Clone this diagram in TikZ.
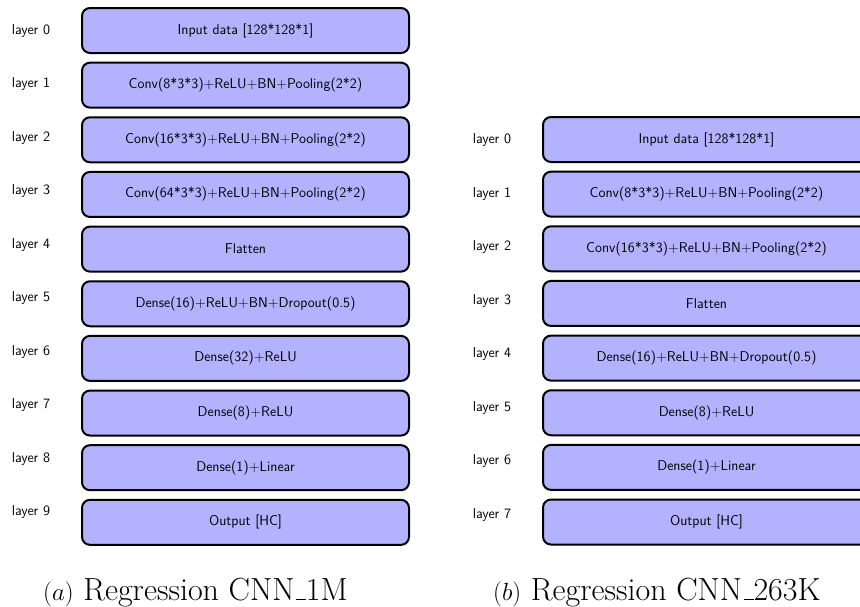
\documentclass[tikz,border=0pt]{standalone}
\begin{document}
\begin{tikzpicture}[x=1pt,y=-1pt,
  layerbox/.style={draw=black, line width=2pt, fill=blue!30, rounded corners=8pt,
    minimum width=327pt, minimum height=45pt, inner sep=0pt,
    font=\sffamily\fontsize{14.2}{16}\selectfont},
  layerlabel/.style={inner sep=0pt, font=\sffamily\fontsize{14.3}{16}\selectfont},
  captiontext/.style={inner sep=0pt, anchor=base west, font=\fontsize{32}{36}\selectfont}]
\useasboundingbox (0,0) rectangle (860,606);
\clip (0,0) rectangle (860,606);
% left column
\foreach \t [count=\i from 0] in {Input data [128*128*1],
  Conv(8*3*3)+ReLU+BN+Pooling(2*2),
  Conv(16*3*3)+ReLU+BN+Pooling(2*2),
  Conv(64*3*3)+ReLU+BN+Pooling(2*2),
  Flatten,
  Dense(16)+ReLU+BN+Dropout(0.5),
  Dense(32)+ReLU,
  Dense(8)+ReLU,
  Dense(1)+Linear,
  Output [HC]}{
  \node[layerbox] (L\i) at (245.5, 30.5+54.65*\i) {\t};
  \node[layerlabel] (LL\i) at (31, 30.5+53.5*\i) {layer \i};
}
% right column
\foreach \t [count=\i from 0] in {Input data [128*128*1],
  Conv(8*3*3)+ReLU+BN+Pooling(2*2),
  Conv(16*3*3)+ReLU+BN+Pooling(2*2),
  Flatten,
  Dense(16)+ReLU+BN+Dropout(0.5),
  Dense(8)+ReLU,
  Dense(1)+Linear,
  Output [HC]}{
  \node[layerbox] (R\i) at (706.5, 139.5+54.65*\i) {\t};
  \node[layerlabel] (RL\i) at (492, 140+53.5*\i) {layer \i};
}
\node[captiontext] (capa) at (43,600) {$(a)$ Regression CNN\kern.06em\rule{.3em}{1.3pt}1M};
\node[captiontext] (capb) at (493,600) {$(b)$ Regression CNN\kern.06em\rule{.3em}{1.3pt}263K};
\end{tikzpicture}
\end{document}
